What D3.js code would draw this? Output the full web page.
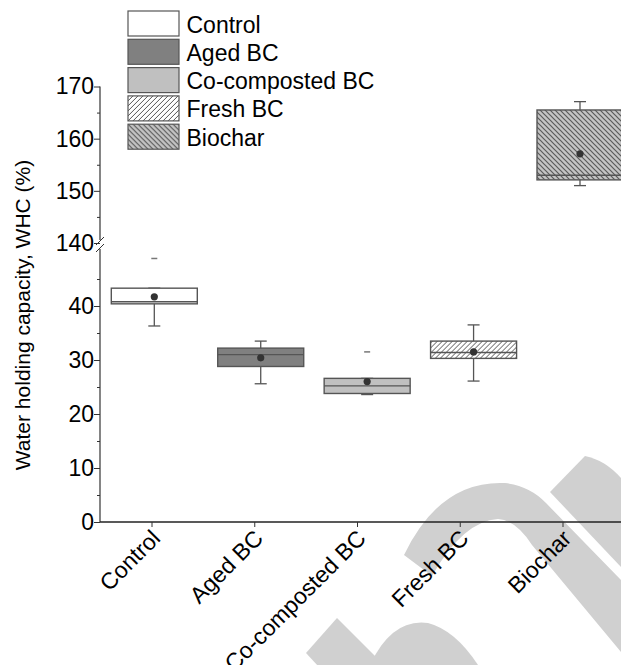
<!DOCTYPE html>
<html>
<head>
<meta charset="utf-8">
<script src="https://cdn.jsdelivr.net/npm/d3@7"></script>
<style>
  html, body { margin: 0; padding: 0; background: #fff; }
  svg { display: block; font-family: "Liberation Sans", Arial, sans-serif; }
</style>
</head>
<body>
<div id="chart"></div>
<script>
(function () {
  // ================================================
  // 1. DATA
  // ================================================
  const categories = ["Control", "Aged BC", "Co-composted BC", "Fresh BC", "Biochar"];
  const whiskerLow = [36.3, 25.6, 23.6, 26.1, 151.0];
  const q1 = [40.4, 28.8, 23.8, 30.3, 152.1];
  const median = [40.8, 31.0, 25.2, 31.4, 153.0];
  const q3 = [43.3, 32.2, 26.6, 33.5, 165.5];
  const whiskerHigh = [43.3, 33.5, 26.6, 36.5, 167.1];
  const mean = [41.7, 30.4, 26.0, 31.5, 157.1];
  const maxMark = [48.8, null, 31.5, null, null];

  const lowTicks = [0, 10, 20, 30, 40];
  const lowMinor = [5, 15, 25, 35, 45];
  const highTicks = [140, 150, 160, 170];
  const highMinor = [145, 155, 165];

  const fills = ["#ffffff", "#808080", "#c0c0c0", "url(#hatch-fwd)", "url(#hatch-back)"];

  // ================================================
  // 2. LAYOUT
  // ================================================
  const width = 621, height = 665;
  const axisX = 100;
  const fontSize = 23;

  const yLow = d3.scaleLinear().domain([0, 50]).range([522, 252]);
  const yHigh = d3.scaleLinear().domain([140, 170]).range([243, 86.5]);
  const y = v => v > 100 ? yHigh(v) : yLow(v);

  // tick positions and box positions don't share spacing in the original
  const xTick = d3.scalePoint().domain(categories).range([152, 563]);
  const xBox = d3.scalePoint().domain(categories).range([154.3, 580]);
  const boxW = 86;
  const capW = 12;

  const svg = d3.select("#chart").append("svg")
    .attr("width", width)
    .attr("height", height);

  // ================================================
  // 3. PATTERNS
  // ================================================
  const defs = svg.append("defs");

  const fwd = defs.append("pattern")
    .attr("id", "hatch-fwd")
    .attr("patternUnits", "userSpaceOnUse")
    .attr("width", 5).attr("height", 5);
  fwd.append("rect").attr("width", 5).attr("height", 5).attr("fill", "#fff");
  fwd.append("path")
    .attr("d", "M0,5 L5,0 M-1,1 L1,-1 M4,6 L6,4")
    .attr("stroke", "#555").attr("stroke-width", 1);

  const back = defs.append("pattern")
    .attr("id", "hatch-back")
    .attr("patternUnits", "userSpaceOnUse")
    .attr("width", 5).attr("height", 5);
  back.append("rect").attr("width", 5).attr("height", 5).attr("fill", "#c4c4c4");
  back.append("path")
    .attr("d", "M0,0 L5,5 M-1,4 L1,6 M4,-1 L6,1")
    .attr("stroke", "#5a5a5a").attr("stroke-width", 1.2);

  // ================================================
  // 4. WATERMARK (light grey background shapes)
  // ================================================
  const wm = svg.append("g").attr("fill", "#d0d0d0").attr("stroke", "none");
  // top-right stripe
  wm.append("path").attr("d", "M550,492 L585,456 Q605,460 621,478 L621,567 Z");
  // big arch
  wm.append("path")
    .attr("d", "M404,555 Q440,480 505,483 Q530,486 546,503 L621,580 L621,652 L532,545 Q516,520 498,519 Q463,521 432,576 Z");
  // small inner dome
  wm.append("path")
    .attr("d", "M370,665 Q392,618 428,623 Q455,630 478,665 Z");
  // lower-left stripe
  wm.append("path").attr("d", "M306,653 L337,618 L390,671 L355,706 Z");

  // ================================================
  // 5. AXES
  // ================================================
  const axisG = svg.append("g");

  function yAxis(scale, ticks, minor) {
    const g = axisG.append("g").attr("transform", `translate(${axisX},0)`);
    g.call(d3.axisLeft(scale).tickValues(ticks).tickSize(6).tickPadding(0))
      .call(s => s.select(".domain").remove())
      .call(s => s.selectAll("text")
        .attr("fill", "#000")
        .attr("font-size", fontSize)
        .attr("font-family", "Liberation Sans, Arial, sans-serif"))
      .call(s => s.selectAll("line").attr("stroke", "#333"));
    const m = axisG.append("g").attr("transform", `translate(${axisX},0)`);
    m.call(d3.axisLeft(scale).tickValues(minor).tickSize(3).tickFormat(""))
      .call(s => s.select(".domain").remove())
      .call(s => s.selectAll("line").attr("stroke", "#333"));
  }
  yAxis(yLow, lowTicks, lowMinor);
  yAxis(yHigh, highTicks, highMinor);

  // axis lines with break
  axisG.append("line")
    .attr("x1", axisX).attr("x2", axisX)
    .attr("y1", yHigh(170)).attr("y2", 240)
    .attr("stroke", "#333").attr("stroke-width", 1.2);
  axisG.append("line")
    .attr("x1", axisX).attr("x2", axisX)
    .attr("y1", 249).attr("y2", yLow(0))
    .attr("stroke", "#333").attr("stroke-width", 1.2);
  [241, 248].forEach(by => {
    axisG.append("line")
      .attr("x1", axisX - 4).attr("y1", by + 4)
      .attr("x2", axisX + 4).attr("y2", by - 4)
      .attr("stroke", "#333").attr("stroke-width", 1);
  });

  // x axis
  const xg = axisG.append("g").attr("transform", `translate(0,${yLow(0)})`);
  xg.append("line")
    .attr("x1", axisX).attr("x2", width)
    .attr("stroke", "#222").attr("stroke-width", 1.4);
  xg.selectAll(".xt")
    .data(categories)
    .enter()
    .append("line")
    .attr("class", "xt")
    .attr("x1", d => xTick(d)).attr("x2", d => xTick(d))
    .attr("y1", 0).attr("y2", 5)
    .attr("stroke", "#333");
  xg.selectAll(".xl")
    .data(categories)
    .enter()
    .append("text")
    .attr("class", "xl")
    .attr("transform", d => `translate(${xTick(d) - 2},6) rotate(-45)`)
    .attr("text-anchor", "end")
    .attr("dy", "0.72em")
    .attr("font-size", fontSize)
    .attr("fill", "#000")
    .text(d => d);

  // y title
  svg.append("text")
    .attr("transform", "translate(30,315) rotate(-90)")
    .attr("text-anchor", "middle")
    .attr("font-size", 21)
    .attr("fill", "#000")
    .text("Water holding capacity, WHC (%)");

  // ================================================
  // 6. BOXES
  // ================================================
  const boxes = svg.append("g")
    .selectAll("g")
    .data(categories)
    .enter()
    .append("g")
    .attr("transform", d => `translate(${xBox(d)},0)`);

  boxes.append("line")
    .attr("y1", (d, i) => y(whiskerLow[i]))
    .attr("y2", (d, i) => y(whiskerHigh[i]))
    .attr("stroke", "#555").attr("stroke-width", 1.3);
  boxes.append("line")
    .attr("x1", -capW / 2).attr("x2", capW / 2)
    .attr("y1", (d, i) => y(whiskerLow[i])).attr("y2", (d, i) => y(whiskerLow[i]))
    .attr("stroke", "#555").attr("stroke-width", 1.3);
  boxes.append("line")
    .attr("x1", -capW / 2).attr("x2", capW / 2)
    .attr("y1", (d, i) => y(whiskerHigh[i])).attr("y2", (d, i) => y(whiskerHigh[i]))
    .attr("stroke", "#555").attr("stroke-width", 1.3);

  boxes.append("rect")
    .attr("x", -boxW / 2)
    .attr("width", boxW)
    .attr("y", (d, i) => y(q3[i]))
    .attr("height", (d, i) => y(q1[i]) - y(q3[i]))
    .attr("fill", (d, i) => fills[i])
    .attr("stroke", "#555").attr("stroke-width", 1.4);
  boxes.append("line")
    .attr("x1", -boxW / 2).attr("x2", boxW / 2)
    .attr("y1", (d, i) => y(median[i])).attr("y2", (d, i) => y(median[i]))
    .attr("stroke", "#555").attr("stroke-width", 1.4);

  boxes.append("circle")
    .attr("r", 3.6)
    .attr("cy", (d, i) => y(mean[i]))
    .attr("fill", "#333");

  boxes.filter((d, i) => maxMark[i] !== null)
    .append("line")
    .attr("x1", -3).attr("x2", 3)
    .attr("y1", d => y(maxMark[categories.indexOf(d)]))
    .attr("y2", d => y(maxMark[categories.indexOf(d)]))
    .attr("stroke", "#777").attr("stroke-width", 1.5);

  // ================================================
  // 7. LEGEND
  // ================================================
  const legend = svg.append("g").attr("transform", "translate(128,11)");
  const rows = legend.selectAll("g")
    .data(categories)
    .enter()
    .append("g")
    .attr("transform", (d, i) => `translate(0,${i * 28.3})`);
  rows.append("rect")
    .attr("width", 51).attr("height", 25)
    .attr("fill", (d, i) => fills[i])
    .attr("stroke", "#555").attr("stroke-width", 1.2);
  rows.append("text")
    .attr("x", 58.5).attr("y", 21.5)
    .attr("font-size", fontSize)
    .attr("fill", "#000")
    .text(d => d);
})();
</script>
</body>
</html>
